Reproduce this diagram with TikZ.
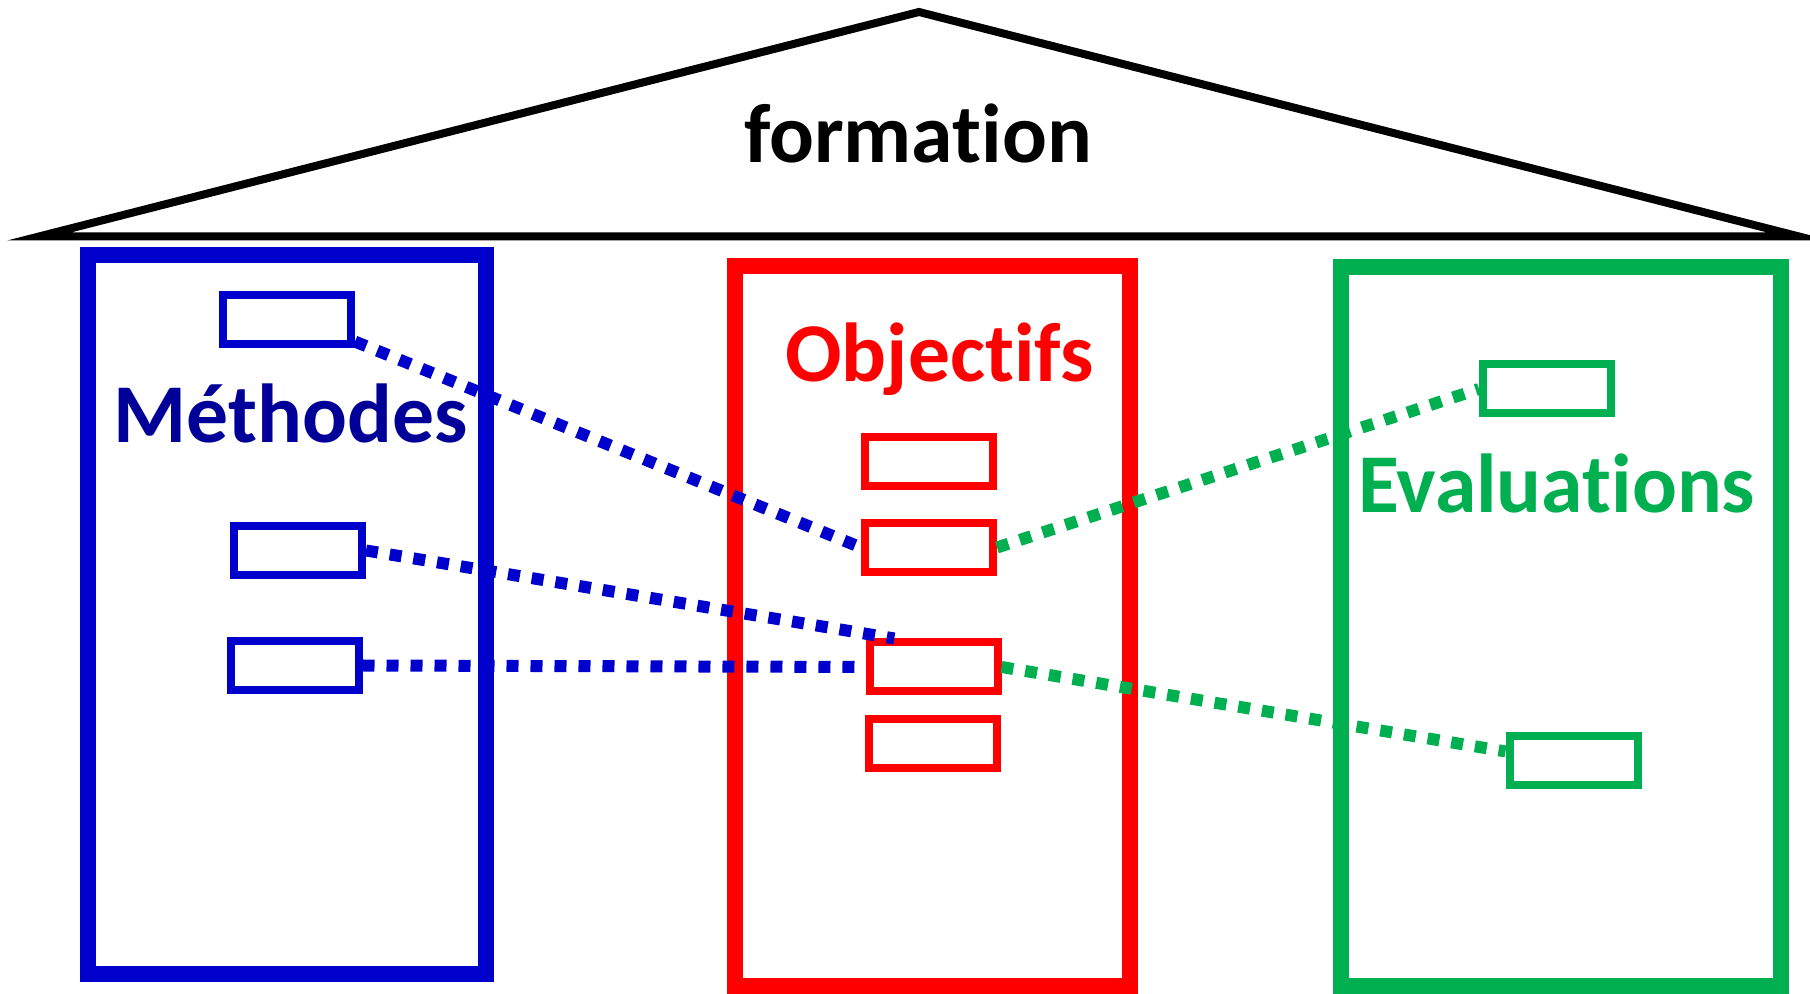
\documentclass[tikz,border=0pt]{standalone}
\usepackage{fontspec}
\setmainfont{Carlito}[Ligatures=NoCommon]
\usepackage{xcolor}

\definecolor{methblue}{RGB}{0,0,204}
\definecolor{methtext}{RGB}{0,0,153}
\definecolor{objred}{RGB}{255,0,0}
\definecolor{evalgreen}{RGB}{0,176,80}

\begin{document}
\begin{tikzpicture}[
    title/.style={anchor=base,inner sep=0pt,font=\fontsize{23.8}{28}\selectfont\bfseries},
    roof/.style={draw=black,line width=0.08cm,line join=miter},
    pillar/.style={rectangle,line width=0.16cm,inner sep=0pt,minimum height=7.19cm},
    item/.style={rectangle,line width=0.08cm,inner sep=0pt,minimum width=1.28cm,minimum height=0.49cm},
    link/.style={line width=0.12cm,dash pattern=on 0.12cm off 0.12cm}
  ]
    \useasboundingbox (0,0) rectangle (18.10,9.93);

    % roof
    \draw[roof] (0.39,7.565) -- (9.19,9.81) -- (17.99,7.565) -- cycle;
    \node[title] (formation) at (9.18,8.30) {formation};

    % the three pillars
    \node[pillar,draw=methblue,minimum width=3.98cm] (methodes) at (2.87,3.785) {};
    \node[pillar,draw=objred,minimum width=3.95cm] (objectifs) at (9.325,3.67) {};
    \node[pillar,draw=evalgreen,minimum width=4.40cm] (evaluations) at (15.61,3.665) {};

    \node[title,text=methtext] (methlabel) at (2.905,5.50) {Méthodes};
    \node[title,text=objred] (objlabel) at (9.395,6.11) {Objectifs};
    \node[title,text=evalgreen] (evallabel) at (15.565,4.80) {Evaluations};

    \node[item,draw=methblue] (m1) at (2.87,6.735) {};
    \node[item,draw=methblue] (m2) at (2.98,4.425) {};
    \node[item,draw=methblue] (m3) at (2.945,3.275) {};

    \node[item,draw=objred] (o1) at (9.29,5.31) {};
    \node[item,draw=objred] (o2) at (9.29,4.455) {};
    \node[item,draw=objred] (o3) at (9.335,3.26) {};
    \node[item,draw=objred] (o4) at (9.325,2.495) {};

    \node[item,draw=evalgreen] (e1) at (15.47,6.04) {};
    \node[item,draw=evalgreen] (e2) at (15.735,2.32) {};

    % links between the items
    \draw[link,methblue] (m1.-18) -- (o2.west);
    \draw[link,methblue] (m2.east) -- (o3.144);
    \draw[link,methblue] (m3.east) -- (o3.west);
    \draw[link,evalgreen] (o2.east) -- (e1.west);
    \draw[link,evalgreen] (o3.east) -- (e2.172);
  \end{tikzpicture}
\end{document}
